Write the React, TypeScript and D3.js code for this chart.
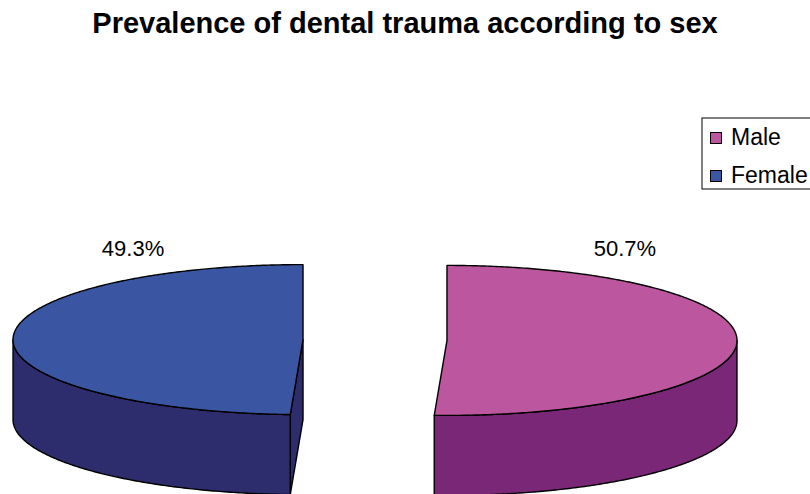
import React from "react";
import * as d3 from "d3";

const categories = ["Male", "Female"];
const values = [50.7, 49.3];
const labels = ["50.7%", "49.3%"];
const topColors = ["#BC569E", "#3A55A2"];
const sideColors = ["#7A2777", "#2D2C6C"];

const W = 810;
const H = 494;
const CX = 375;
const CY = 340;
const RX = 290;
const RY = 75;
const DEPTH = 80;
const EXPLODE = 72;

function pt(cx: number, cy: number, a: number, dy = 0): [number, number] {
  return [cx + RX * Math.sin(a), cy - RY * Math.cos(a) + dy];
}

function arcPts(cx: number, cy: number, a0: number, a1: number, dy = 0) {
  const n = Math.max(2, Math.ceil(Math.abs(a1 - a0) / 0.01));
  return d3.range(n + 1).map((i) => pt(cx, cy, a0 + ((a1 - a0) * i) / n, dy));
}

export default function App() {
  const pie = d3
    .pie<number>()
    .sort(null)
    .startAngle(0)
    .endAngle(2 * Math.PI);
  const arcs = pie(values);
  const line = d3.line();

  const slices = arcs.map((a, i) => {
    const mid = (a.startAngle + a.endAngle) / 2;
    const cx = CX + EXPLODE * Math.sin(mid);
    const cy = CY - EXPLODE * Math.cos(mid) * (RY / RX);
    return { a, i, mid, cx, cy };
  });

  return (
    <svg
      width={W}
      height={H}
      style={{ position: "absolute", left: 0, top: 0, background: "#fff" }}
      fontFamily="'Liberation Sans', Arial, sans-serif"
    >
      <text x={405} y={33} textAnchor="middle" fontSize={29} fontWeight="bold" fill="#000">
        Prevalence of dental trauma according to sex
      </text>

      {slices.map(({ a, i, mid, cx, cy }) => {
        const s = a.startAngle;
        const e = a.endAngle;
        const els: React.ReactNode[] = [];
        const faces: [number, number][] = [
          [s, s - Math.PI / 2],
          [e, e + Math.PI / 2],
        ];
        faces.forEach(([ang, nrm], k) => {
          const facing = -Math.cos(nrm);
          if (facing > 0.001) {
            const p = [
              [cx, cy],
              pt(cx, cy, ang),
              pt(cx, cy, ang, DEPTH),
              [cx, cy + DEPTH],
            ] as [number, number][];
            els.push(
              <path
                key={"f" + k}
                d={line(p) + "Z"}
                fill={sideColors[i]}
                stroke="#000"
                strokeWidth={1.4}
                strokeLinejoin="round"
              />
            );
          }
        });
        const w0 = Math.max(s, Math.PI / 2);
        const w1 = Math.min(e, (3 * Math.PI) / 2);
        if (w1 > w0) {
          const top = arcPts(cx, cy, w0, w1);
          const bot = arcPts(cx, cy, w1, w0, DEPTH);
          els.push(
            <path
              key="wall"
              d={line([...top, ...bot]) + "Z"}
              fill={sideColors[i]}
              stroke="#000"
              strokeWidth={1.4}
              strokeLinejoin="round"
            />
          );
        }
        const topPts = [[cx, cy] as [number, number], ...arcPts(cx, cy, s, e)];
        els.push(
          <path
            key="top"
            d={line(topPts) + "Z"}
            fill={topColors[i]}
            stroke="#000"
            strokeWidth={1.4}
            strokeLinejoin="round"
          />
        );
        return (
          <g key={categories[i]}>
            {els}
            <text
              x={cx + 174 * Math.sin(mid) + 4}
              y={256}
              textAnchor="middle"
              fontSize={22}
              fill="#000"
            >
              {labels[i]}
            </text>
          </g>
        );
      })}

      <g>
        <rect x={702} y={118} width={120} height={71} fill="#fff" stroke="#000" strokeWidth={1} />
        {categories.map((c, i) => (
          <g key={c} transform={`translate(0, ${i * 38})`}>
            <rect x={710.5} y={132.5} width={11} height={11} fill={topColors[i]} stroke="#000" strokeWidth={1} />
            <text x={731} y={145} fontSize={23} fill="#000">
              {c}
            </text>
          </g>
        ))}
      </g>
    </svg>
  );
}
